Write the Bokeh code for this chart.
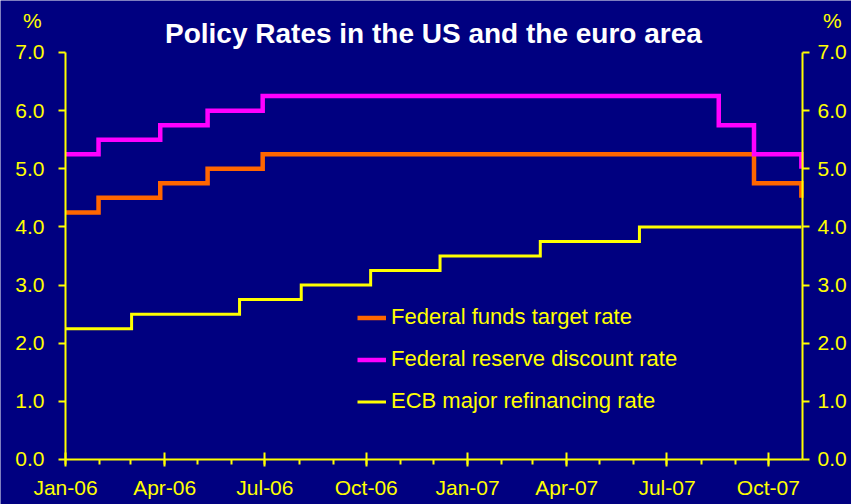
import pandas as pd
from bokeh.plotting import figure
from bokeh.models import (FixedTicker, DatetimeTickFormatter, NumeralTickFormatter,
                          LinearAxis, Label, Legend, LegendItem, Range1d)
from bokeh.embed import file_html
from bokeh.resources import INLINE

# ---- data ----
fed_funds_dates = ["2006-01-01", "2006-01-31", "2006-03-28", "2006-05-10", "2006-06-29",
                   "2007-09-18", "2007-10-31"]
fed_funds_rates = [4.25, 4.50, 4.75, 5.00, 5.25, 4.75, 4.50]

discount_dates = ["2006-01-01", "2006-01-31", "2006-03-28", "2006-05-10", "2006-06-29",
                  "2007-08-17", "2007-09-18", "2007-10-31"]
discount_rates = [5.25, 5.50, 5.75, 6.00, 6.25, 5.75, 5.25, 5.00]

ecb_dates = ["2006-01-01", "2006-03-02", "2006-06-08", "2006-08-03", "2006-10-05",
             "2006-12-07", "2007-03-08", "2007-06-06", "2007-10-31"]
ecb_rates = [2.25, 2.50, 2.75, 3.00, 3.25, 3.50, 3.75, 4.00, 4.00]

x_major_ticks = ["2006-01-01", "2006-04-01", "2006-07-01", "2006-10-01",
                 "2007-01-01", "2007-04-01", "2007-07-01", "2007-10-01"]
x_minor_ticks = [f"{y}-{m:02d}-01" for y in (2006, 2007) for m in range(1, 13)
                 if not (y == 2007 and m > 10)]
y_ticks = [0, 1, 2, 3, 4, 5, 6, 7]

series_names = ["Federal funds target rate", "Federal reserve discount rate",
                "ECB major refinancing rate"]
title_text = "Policy Rates in the US and the euro area"
unit_text = "%"

x_axis_start = "2006-01-01"
x_axis_end = "2007-11-01"
y_axis_start, y_axis_end = 0, 7


def ms(d):
    return pd.Timestamp(d).value / 1e6


DAY = 86400000.0
BG = "#000080"
YEL = "#FFFF00"
FONT = "Liberation Sans"

# the frame fills the whole canvas; axes are pinned with fixed_location
x0 = ms(x_axis_start)
p = figure(width=851, height=504, x_axis_type="datetime",
           x_range=Range1d(x0 - 59.0 * DAY, x0 + 713.5 * DAY),
           y_range=Range1d(-0.774, 7.894),
           output_backend="svg", toolbar_location=None,
           background_fill_color=BG, border_fill_color=BG,
           min_border_left=0, min_border_right=0, min_border_top=0, min_border_bottom=0)
p.outline_line_color = None
p.xgrid.visible = False
p.ygrid.visible = False

r_ff = p.step([pd.Timestamp(d) for d in fed_funds_dates], fed_funds_rates, mode="after",
              line_color="#FF6600", line_width=4.5, line_join="miter")
r_dr = p.step([pd.Timestamp(d) for d in discount_dates], discount_rates, mode="after",
              line_color="#FF00FF", line_width=4.5, line_join="miter")
r_ecb = p.step([pd.Timestamp(d) for d in ecb_dates], ecb_rates, mode="after",
               line_color=YEL, line_width=3, line_join="miter")

# x axis
xa = p.xaxis[0]
xa.fixed_location = y_axis_start
xa.bounds = (ms(x_axis_start), ms(x_axis_end))
xa.ticker = FixedTicker(ticks=[ms(d) for d in x_major_ticks],
                        minor_ticks=[ms(d) for d in x_minor_ticks])
fmt = "%b-%y"
xa.formatter = DatetimeTickFormatter(years=fmt, months=fmt, days=fmt, hours=fmt,
                                     hourmin=fmt, minutes=fmt, minsec=fmt,
                                     seconds=fmt, milliseconds=fmt, microseconds=fmt)
xa.axis_line_color = YEL
xa.axis_line_width = 2
xa.major_tick_line_color = YEL
xa.major_tick_line_width = 2
xa.major_tick_in = 7
xa.major_tick_out = 7
xa.minor_tick_line_color = YEL
xa.minor_tick_line_width = 2
xa.minor_tick_in = 0
xa.minor_tick_out = 5
xa.major_label_text_color = YEL
xa.major_label_text_font = FONT
xa.major_label_text_font_size = "21px"
xa.major_label_standoff = 10


def style_y(ax):
    ax.ticker = FixedTicker(ticks=y_ticks)
    ax.bounds = (y_axis_start, y_axis_end)
    ax.formatter = NumeralTickFormatter(format="0.0")
    ax.axis_line_color = YEL
    ax.axis_line_width = 2
    ax.major_tick_line_color = YEL
    ax.major_tick_line_width = 2
    ax.major_tick_in = 0
    ax.major_tick_out = 7
    ax.minor_tick_line_color = None
    ax.major_label_text_color = YEL
    ax.major_label_text_font = FONT
    ax.major_label_text_font_size = "21px"


ya = p.yaxis[0]
style_y(ya)
ya.fixed_location = ms(x_axis_start)
ya.major_label_standoff = 14
ra = LinearAxis()
style_y(ra)
ra.fixed_location = ms(x_axis_end)
ra.major_label_standoff = 8
p.add_layout(ra, "right")

# title and unit labels
p.add_layout(Label(x=ms("2006-12-01"), y=7.33, text=title_text, text_color="white",
                   text_font=FONT, text_font_style="bold", text_font_size="28px",
                   text_align="center", text_baseline="middle"))
p.add_layout(Label(x=ms("2005-12-02"), y=7.55, text=unit_text, text_color=YEL,
                   text_font=FONT, text_font_size="21px",
                   text_align="center", text_baseline="middle"))
p.add_layout(Label(x=ms("2007-11-28"), y=7.55, text=unit_text, text_color=YEL,
                   text_font=FONT, text_font_size="21px",
                   text_align="center", text_baseline="middle"))

legend = Legend(items=[LegendItem(label=series_names[0], renderers=[r_ff]),
                       LegendItem(label=series_names[1], renderers=[r_dr]),
                       LegendItem(label=series_names[2], renderers=[r_ecb])],
                location=(357, 90))
legend.background_fill_alpha = 0
legend.border_line_color = None
legend.label_text_color = YEL
legend.label_text_font = FONT
legend.label_text_font_size = "22px"
legend.glyph_width = 29
legend.glyph_height = 25
legend.label_height = 25
legend.spacing = 16
legend.padding = 0
legend.margin = 0
legend.label_standoff = 5
p.add_layout(legend)

html = file_html(p, INLINE)
html = html.replace("<body>", '<body style="background-color:#000080;margin:0;overflow:hidden;">', 1)
open("out.html", "w").write(html)
